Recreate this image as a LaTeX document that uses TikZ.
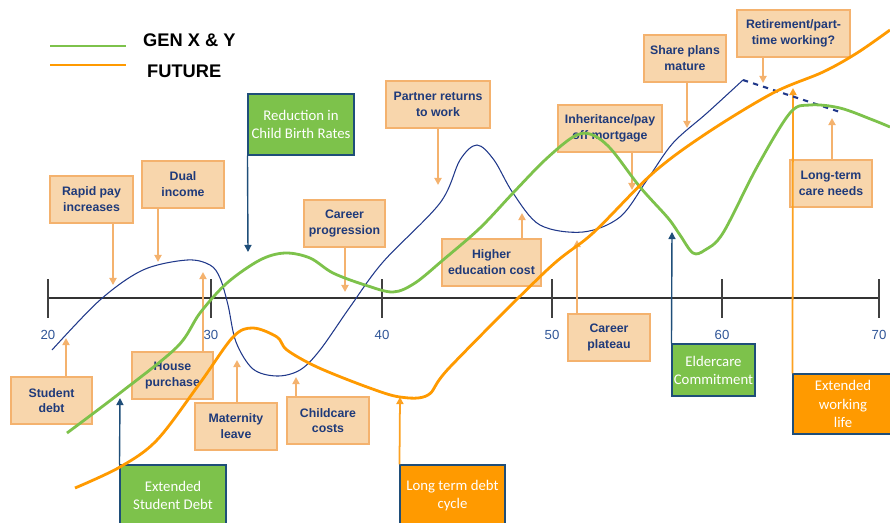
\documentclass[tikz,border=0pt]{standalone}
\usepackage{fontspec}
\setmainfont{Liberation Sans}
\newfontfamily\calfont{Carlito}
\usetikzlibrary{arrows.meta}

\definecolor{peach}{RGB}{248,214,172}
\definecolor{peachline}{RGB}{244,178,110}
\definecolor{navytext}{RGB}{31,58,122}
\definecolor{navycurve}{RGB}{32,56,138}
\definecolor{genxy}{RGB}{125,194,75}
\definecolor{future}{RGB}{255,154,0}
\definecolor{darkarrow}{RGB}{31,78,121}
\definecolor{agecol}{RGB}{47,85,151}

\tikzset{
  lifebox/.style={draw=peachline, line width=0.8pt, fill=peach, text=navytext,
    font=\fontsize{7}{9}\selectfont\bfseries, align=center,
    minimum height=0.94cm, inner sep=1pt},
  trendbox/.style={draw=darkarrow, line width=0.6pt, text=white,
    font=\calfont\fontsize{8.4}{10.3}\selectfont, align=center, inner sep=1pt},
  peacharrow/.style={draw=peachline, line width=1.1pt,
    -{Triangle[width=4pt,length=4pt]}},
  darkarrow/.style={draw=darkarrow, line width=0.8pt,
    -{Triangle[width=4pt,length=4pt]}},
  futurearrow/.style={draw=future!70!peachline, line width=1pt,
    -{Triangle[width=4pt,length=4pt]}},
}

\begin{document}
\begin{tikzpicture}[x=0.02cm, y=-0.02cm]
  \useasboundingbox (0,0) rectangle (890,522);
  \clip (0,0) rectangle (890,522);

  % legend
  \draw[genxy, line width=1.6pt] (50,46) -- (126,46);
  \draw[future, line width=1.6pt] (50,65) -- (126,65);
  \node[anchor=west, font=\fontsize{10.4}{12}\selectfont\bfseries] (lgen) at (137,40) {GEN X \& Y};
  \node[anchor=west, font=\fontsize{10.4}{12}\selectfont\bfseries] (lfut) at (141,71) {FUTURE};

  % age axis
  \draw[line width=0.9pt, black!80] (48,298) -- (880,298);
  \foreach \a/\x in {20/48,30/211,40/382,50/552,60/722,70/879}
  \draw[line width=0.9pt, black!75] (\x,279) -- (\x,318)
        node[below=3pt, text=agecol, font=\fontsize{7.5}{9}\selectfont] (age\a) {\a};

  % boxes above the axis
  \node[lifebox, minimum width=1.66cm] (rapid) at (91.5,199.5) {Rapid pay\\increases};
  \node[lifebox, minimum width=1.64cm] (dual) at (183,184.5) {Dual\\income};
  \node[lifebox, minimum width=1.62cm] (career) at (344.5,223.5) {Career\\progression};
  \node[lifebox, minimum width=2.08cm] (partner) at (438,104.5) {Partner returns\\to work};
  \node[lifebox, minimum width=1.98cm] (higher) at (491.5,262.5) {Higher\\education cost};
  \node[lifebox, minimum width=2.08cm] (inherit) at (610,128.5) {Inheritance/pay\\off mortgage};
  \node[lifebox, minimum width=1.64cm] (share) at (685,58.5) {Share plans\\mature};
  \node[lifebox, minimum width=2.26cm] (retire) at (793.5,33.5) {Retirement/part-\\time working?};
  \node[lifebox, minimum width=1.64cm] (longcare) at (831,183.5) {Long-term\\care needs};

  % boxes below the axis
  \node[lifebox, minimum width=1.62cm] (student) at (51.5,400.5) {Student\\debt};
  \node[lifebox, minimum width=1.62cm] (house) at (172.5,375.5) {House\\purchase};
  \node[lifebox, minimum width=1.64cm] (maternity) at (236,426.5) {Maternity\\leave};
  \node[lifebox, minimum width=1.64cm] (childcare) at (328,420.5) {Childcare\\costs};
  \node[lifebox, minimum width=1.64cm] (plateau) at (609,337.5) {Career\\plateau};

  % trend boxes
  \node[trendbox, fill=genxy, minimum width=2.12cm, minimum height=1.22cm] (reduction) at (301,124.5) {Reduction in\\Child Birth Rates};
  \node[trendbox, fill=genxy, minimum width=1.66cm, minimum height=1.04cm] (eldercare) at (713.5,370) {Eldercare\\Commitment};
  \node[trendbox, fill=genxy, minimum width=2.12cm, minimum height=1.22cm] (extstudent) at (173,495.5) {Extended\\Student Debt};
  \node[trendbox, fill=future, minimum width=2.10cm, minimum height=1.22cm] (longdebt) at (452.5,495.5) {Long term debt\\cycle};
  \node[trendbox, fill=future, minimum width=2.00cm, minimum height=1.20cm] (extworking) at (843,404) {Extended\\working\\life};

  % arrow tips
  \coordinate (t-rapid) at (113,285);
  \coordinate (t-dual) at (158,262);
  \coordinate (t-career) at (345,292);
  \coordinate (t-partner) at (438,185);
  \coordinate (t-higher) at (522,213);
  \coordinate (t-inherit) at (632,190);
  \coordinate (t-share) at (687,128);
  \coordinate (t-retire) at (763,83);
  \coordinate (t-longcare) at (832,118);
  \coordinate (t-student) at (66,338);
  \coordinate (t-house) at (203,272);
  \coordinate (t-maternity) at (237,360);
  \coordinate (t-childcare) at (296,377);
  \coordinate (t-plateau) at (577,240);
  \coordinate (t-reduction) at (248,252);
  \coordinate (t-eldercare) at (672,232);
  \coordinate (t-extstudent) at (120,398);
  \coordinate (t-longdebt) at (400,397);
  \coordinate (t-extworking) at (793,88);

  \foreach \n in {rapid,dual,career,partner,inherit,share,retire}
  \draw[peacharrow] (\n.south -| t-\n) -- (t-\n);
  \foreach \n in {higher,longcare,student,house,maternity,childcare,plateau}
  \draw[peacharrow] (\n.north -| t-\n) -- (t-\n);
  \draw[darkarrow] (reduction.south west) -- (t-reduction);
  \draw[darkarrow] (eldercare.north west) -- (t-eldercare);
  \draw[darkarrow] (extstudent.north west) -- (t-extstudent);
  \draw[futurearrow] (longdebt.north west) -- (t-longdebt);
  \draw[futurearrow] (extworking.north west) -- (t-extworking);

  % curves
  \draw[navycurve, line width=0.6pt] plot[smooth, tension=0.55] coordinates {
    (52,350) (100,300) (143,270) (187,260) (210,265) (220,278) (228,305)
    (236,342) (253,369) (277,376) (300,370) (320,350) (350,307) (383,262)
    (440,203) (460,160) (477,145) (494,160) (513,193) (540,225) (583,232)
    (620,217) (647,180) (673,143) (707,113) (743,80)};
  \draw[navycurve, line width=1.2pt, dashed] (743,80) -- (843,113);

  \draw[genxy, line width=1.6pt] plot[smooth, tension=0.55] coordinates {
    (67,433) (120,393) (177,347) (200,313) (227,283) (260,260) (285,253)
    (310,258) (333,273) (365,285) (393,292) (415,283) (443,260) (480,228)
    (513,193) (545,160) (573,137) (590,134) (610,148) (640,187) (668,218)
    (680,235) (693,253) (705,250) (723,233) (757,167) (790,113) (810,105)
    (840,108) (873,120) (890,127)};

  \draw[future, line width=1.6pt] plot[smooth, tension=0.55] coordinates {
    (75,488) (120,467) (157,440) (200,383) (233,337) (253,328) (277,337)
    (287,350) (317,367) (367,387) (400,397) (428,395) (450,367) (547,270)
    (593,233) (653,173) (707,133) (773,93) (823,72) (857,53) (890,30)};
\end{tikzpicture}
\end{document}
